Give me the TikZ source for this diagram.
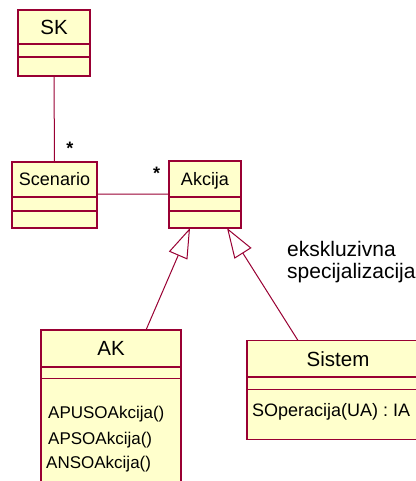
\documentclass[tikz,border=0pt]{standalone}
\usepackage{fontspec}
\setmainfont{Liberation Sans}
\usetikzlibrary{positioning, arrows.meta}
\definecolor{roseline}{RGB}{153,0,51}
\definecolor{rosefill}{RGB}{255,255,204}

\begin{document}
\begin{tikzpicture}[x=1bp, y=-1bp,
    every node/.style={font=\fontsize{18bp}{21bp}\selectfont},
    part/.style={rectangle, draw=roseline, fill=rosefill, line width=1.4bp, outer sep=0pt, inner sep=0pt},
    clsname/.style={part, anchor=north west, font=\fontsize{20.5bp}{24bp}\selectfont, text height=18.7bp, text depth=4bp},
    smallname/.style={clsname, font=\fontsize{18bp}{21bp}\selectfont, text height=16.9bp, text depth=4bp},
    oper/.style={anchor=base west, inner sep=0pt, font=\fontsize{17bp}{20bp}\selectfont},
    mult/.style={anchor=base, inner sep=0pt, font=\fontsize{18bp}{21bp}\bfseries},
    assoc/.style={draw=roseline, line width=1bp},
    gen/.style={assoc, -{Triangle[open, length=30bp, width=20bp]}}]

  \fill[white] (0,0) rectangle (415,481);
  \useasboundingbox (0,0) rectangle (415,481);

  % classes
  \node[clsname, minimum width=72bp, minimum height=34bp] (sk) at (18,10) {SK};
  \node[part, below=0pt of sk, minimum width=72bp, minimum height=13bp] (sk-at) {};
  \node[part, below=0pt of sk-at, minimum width=72bp, minimum height=19bp] (sk-op) {};

  \node[smallname, minimum width=85bp, minimum height=35bp] (scen) at (12,162) {Scenario};
  \node[part, below=0pt of scen, minimum width=85bp, minimum height=14bp] (scen-at) {};
  \node[part, below=0pt of scen-at, minimum width=85bp, minimum height=17bp] (scen-op) {};

  \node[smallname, minimum width=72bp, minimum height=36bp] (akc) at (169,161) {Akcija};
  \node[part, below=0pt of akc, minimum width=72bp, minimum height=14bp] (akc-at) {};
  \node[part, below=0pt of akc-at, minimum width=72bp, minimum height=17bp] (akc-op) {};

  \node[clsname, minimum width=140bp, minimum height=37bp] (ak) at (41,330) {AK};
  \node[part, below=0pt of ak, minimum width=140bp, minimum height=11.5bp] (ak-at) {};
  \node[part, below=0pt of ak-at, minimum width=140bp, minimum height=125bp] (ak-op) {};

  \node[clsname, minimum width=182bp, minimum height=36.5bp] (sis) at (247,340.5) {Sistem};
  \node[part, below=0pt of sis, minimum width=182bp, minimum height=12.5bp] (sis-at) {};
  \node[part, below=0pt of sis-at, minimum width=182bp, minimum height=50bp] (sis-op) {};

  % operations
  \node[oper] (apuso) at (48,418.6) {APUSOAkcija()};
  \node[oper] (apso) at (48,444.4) {APSOAkcija()};
  \node[oper] (anso) at (46,468) {ANSOAkcija()};
  \node[oper, font=\fontsize{18bp}{21bp}\selectfont] (sop) at (252,416.5) {SOperacija(UA) : IA};

  % multiplicities
  \node[mult] (m1) at (70,155) {*};
  \node[mult] (m2) at (156.5,180) {*};

  \node[anchor=base west, align=left, inner sep=0pt, font=\fontsize{21bp}{21.5bp}\selectfont] (excl) at (287,278) {ekskluzivna\\specijalizacija};

  \draw[assoc] (sk-op.south) -- (scen.north);
  \draw[assoc] ([yshift=3bp]scen.south east) -- ([yshift=3bp]akc.south west);
  \draw[gen] ([xshift=35bp]ak.north) -- ([xshift=-15bp]akc-op.south);
  \draw[gen] ([xshift=-40bp]sis.north) -- ([xshift=22bp]akc-op.south);
\end{tikzpicture}
\end{document}
